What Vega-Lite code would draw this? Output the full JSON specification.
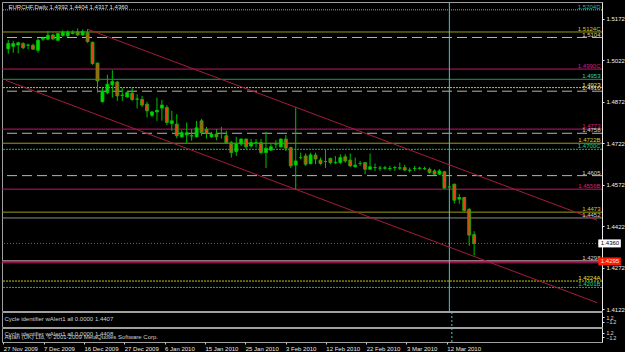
{
  "$schema": "https://vega.github.io/schema/vega-lite/v6.json",
  "background": "#000000",
  "padding": {"left": 1, "top": 1, "right": 0, "bottom": 0},
  "autosize": {"type": "pad"},
  "bounds": "flush",
  "spacing": 1,
  "config": {
    "font": "Liberation Sans",
    "view": {"stroke": "#a0a0a0", "strokeWidth": 1},
    "axis": {"labelFont": "Liberation Sans", "labelFontSize": 6, "labelColor": "#f0f0f0", "grid": false, "labelOverlap": false}
  },
  "datasets": {
    "candles": [
      {"k":0,"o":1.5063,"h":1.5095,"l":1.5045,"c":1.5083},
      {"k":1,"o":1.5072,"h":1.5092,"l":1.5049,"c":1.5082},
      {"k":2,"o":1.5077,"h":1.5089,"l":1.5047,"c":1.5085},
      {"k":3,"o":1.5082,"h":1.5087,"l":1.5062,"c":1.5067},
      {"k":4,"o":1.5076,"h":1.5082,"l":1.5062,"c":1.5077},
      {"k":5,"o":1.5076,"h":1.5082,"l":1.5059,"c":1.5062},
      {"k":6,"o":1.5058,"h":1.5101,"l":1.5049,"c":1.5094},
      {"k":7,"o":1.5098,"h":1.5107,"l":1.5092,"c":1.5101},
      {"k":8,"o":1.5098,"h":1.5128,"l":1.5094,"c":1.5112},
      {"k":9,"o":1.5113,"h":1.5118,"l":1.5094,"c":1.5099},
      {"k":10,"o":1.5094,"h":1.5121,"l":1.5092,"c":1.5118},
      {"k":11,"o":1.5111,"h":1.5130,"l":1.5107,"c":1.5123},
      {"k":12,"o":1.5110,"h":1.5130,"l":1.5106,"c":1.5123},
      {"k":13,"o":1.5118,"h":1.5130,"l":1.5116,"c":1.5121},
      {"k":14,"o":1.5124,"h":1.5137,"l":1.5110,"c":1.5113},
      {"k":15,"o":1.5113,"h":1.5132,"l":1.5111,"c":1.5125},
      {"k":16,"o":1.5121,"h":1.5134,"l":1.5085,"c":1.5089},
      {"k":17,"o":1.5087,"h":1.5089,"l":1.5005,"c":1.5010},
      {"k":18,"o":1.5012,"h":1.5012,"l":1.4905,"c":1.4947},
      {"k":19,"o":1.4872,"h":1.4925,"l":1.4869,"c":1.4908},
      {"k":20,"o":1.4905,"h":1.4969,"l":1.4899,"c":1.4935},
      {"k":21,"o":1.4933,"h":1.4986,"l":1.4887,"c":1.4945},
      {"k":22,"o":1.4943,"h":1.4947,"l":1.4875,"c":1.4893},
      {"k":23,"o":1.4895,"h":1.4921,"l":1.4875,"c":1.4896},
      {"k":24,"o":1.4889,"h":1.4911,"l":1.4887,"c":1.4905},
      {"k":25,"o":1.4903,"h":1.4921,"l":1.4875,"c":1.4880},
      {"k":26,"o":1.4882,"h":1.4899,"l":1.4848,"c":1.4881},
      {"k":27,"o":1.4880,"h":1.4893,"l":1.4853,"c":1.4860},
      {"k":28,"o":1.4863,"h":1.4872,"l":1.4815,"c":1.4839},
      {"k":29,"o":1.4823,"h":1.4839,"l":1.4817,"c":1.4835},
      {"k":30,"o":1.4835,"h":1.4887,"l":1.4803,"c":1.4841},
      {"k":31,"o":1.4849,"h":1.4878,"l":1.4803,"c":1.4860},
      {"k":32,"o":1.4851,"h":1.4860,"l":1.4788,"c":1.4797},
      {"k":33,"o":1.4793,"h":1.4839,"l":1.4767,"c":1.4803},
      {"k":34,"o":1.4791,"h":1.4827,"l":1.4740,"c":1.4749},
      {"k":35,"o":1.4745,"h":1.4769,"l":1.4742,"c":1.4760},
      {"k":36,"o":1.4752,"h":1.4797,"l":1.4722,"c":1.4760},
      {"k":37,"o":1.4748,"h":1.4773,"l":1.4731,"c":1.4749},
      {"k":38,"o":1.4745,"h":1.4803,"l":1.4742,"c":1.4778},
      {"k":39,"o":1.4803,"h":1.4810,"l":1.4749,"c":1.4760},
      {"k":40,"o":1.4772,"h":1.4781,"l":1.4739,"c":1.4757},
      {"k":41,"o":1.4745,"h":1.4763,"l":1.4741,"c":1.4755},
      {"k":42,"o":1.4755,"h":1.4773,"l":1.4733,"c":1.4745},
      {"k":43,"o":1.4757,"h":1.4781,"l":1.4739,"c":1.4757},
      {"k":44,"o":1.4749,"h":1.4767,"l":1.4719,"c":1.4724},
      {"k":45,"o":1.4724,"h":1.4730,"l":1.4670,"c":1.4688},
      {"k":46,"o":1.4692,"h":1.4745,"l":1.4676,"c":1.4721},
      {"k":47,"o":1.4719,"h":1.4740,"l":1.4712,"c":1.4737},
      {"k":48,"o":1.4737,"h":1.4739,"l":1.4701,"c":1.4709},
      {"k":49,"o":1.4712,"h":1.4737,"l":1.4706,"c":1.4724},
      {"k":50,"o":1.4724,"h":1.4737,"l":1.4706,"c":1.4725},
      {"k":51,"o":1.4724,"h":1.4737,"l":1.4682,"c":1.4688},
      {"k":52,"o":1.4688,"h":1.4763,"l":1.4632,"c":1.4704},
      {"k":53,"o":1.4697,"h":1.4719,"l":1.4694,"c":1.4709},
      {"k":54,"o":1.4719,"h":1.4733,"l":1.4704,"c":1.4719},
      {"k":55,"o":1.4709,"h":1.4740,"l":1.4706,"c":1.4737},
      {"k":56,"o":1.4737,"h":1.4752,"l":1.4694,"c":1.4704},
      {"k":57,"o":1.4706,"h":1.4709,"l":1.4632,"c":1.4640},
      {"k":58,"o":1.4643,"h":1.4851,"l":1.4556,"c":1.4658},
      {"k":59,"o":1.4670,"h":1.4688,"l":1.4664,"c":1.4670},
      {"k":60,"o":1.4676,"h":1.4685,"l":1.4640,"c":1.4646},
      {"k":61,"o":1.4648,"h":1.4688,"l":1.4646,"c":1.4680},
      {"k":62,"o":1.4679,"h":1.4688,"l":1.4646,"c":1.4665},
      {"k":63,"o":1.4661,"h":1.4670,"l":1.4644,"c":1.4649},
      {"k":64,"o":1.4656,"h":1.4700,"l":1.4632,"c":1.4656},
      {"k":65,"o":1.4667,"h":1.4670,"l":1.4646,"c":1.4652},
      {"k":66,"o":1.4652,"h":1.4676,"l":1.4646,"c":1.4653},
      {"k":67,"o":1.4652,"h":1.4682,"l":1.4646,"c":1.4670},
      {"k":68,"o":1.4673,"h":1.4682,"l":1.4652,"c":1.4658},
      {"k":69,"o":1.4661,"h":1.4685,"l":1.4637,"c":1.4640},
      {"k":70,"o":1.4637,"h":1.4670,"l":1.4634,"c":1.4643},
      {"k":71,"o":1.4649,"h":1.4658,"l":1.4640,"c":1.4649},
      {"k":72,"o":1.4652,"h":1.4652,"l":1.4610,"c":1.4628},
      {"k":73,"o":1.4628,"h":1.4685,"l":1.4625,"c":1.4637},
      {"k":74,"o":1.4634,"h":1.4649,"l":1.4622,"c":1.4634},
      {"k":75,"o":1.4632,"h":1.4640,"l":1.4622,"c":1.4632},
      {"k":76,"o":1.4632,"h":1.4640,"l":1.4626,"c":1.4633},
      {"k":77,"o":1.4631,"h":1.4640,"l":1.4622,"c":1.4630},
      {"k":78,"o":1.4634,"h":1.4640,"l":1.4622,"c":1.4634},
      {"k":79,"o":1.4632,"h":1.4652,"l":1.4625,"c":1.4633},
      {"k":80,"o":1.4634,"h":1.4644,"l":1.4622,"c":1.4625},
      {"k":81,"o":1.4625,"h":1.4634,"l":1.4616,"c":1.4624},
      {"k":82,"o":1.4630,"h":1.4640,"l":1.4622,"c":1.4631},
      {"k":83,"o":1.4632,"h":1.4637,"l":1.4626,"c":1.4631},
      {"k":84,"o":1.4631,"h":1.4637,"l":1.4625,"c":1.4630},
      {"k":85,"o":1.4628,"h":1.4634,"l":1.4612,"c":1.4616},
      {"k":86,"o":1.4622,"h":1.4628,"l":1.4608,"c":1.4610},
      {"k":87,"o":1.4610,"h":1.4628,"l":1.4608,"c":1.4622},
      {"k":88,"o":1.4619,"h":1.4622,"l":1.4557,"c":1.4560},
      {"k":89,"o":1.4564,"h":1.4571,"l":1.4557,"c":1.4564},
      {"k":90,"o":1.4574,"h":1.4576,"l":1.4504,"c":1.4516},
      {"k":91,"o":1.4520,"h":1.4539,"l":1.4503,"c":1.4526},
      {"k":92,"o":1.4526,"h":1.4528,"l":1.4475,"c":1.4478},
      {"k":93,"o":1.4483,"h":1.4488,"l":1.4351,"c":1.4390},
      {"k":94,"o":1.4392,"h":1.4404,"l":1.4317,"c":1.4360}
    ],
    "levels": [
      {"p":1.5204,"grp":"G","lab":"1.5204D"},
      {"p":1.5124,"grp":"C","lab":"1.5124C"},
      {"p":1.5104,"grp":"A","lab":"1.5104"},
      {"p":1.4990,"grp":"B","lab":"1.4990C"},
      {"p":1.4953,"grp":"D","lab":"1.4953"},
      {"p":1.4923,"grp":"E","lab":"1.4923"},
      {"p":1.4910,"grp":"A","lab":"1.4910"},
      {"p":1.4773,"grp":"B","lab":"1.4773"},
      {"p":1.4758,"grp":"A","lab":"1.4758"},
      {"p":1.4722,"grp":"C","lab":"1.4722B"},
      {"p":1.4700,"grp":"F","lab":"1.4700C"},
      {"p":1.4605,"grp":"A","lab":"1.4605"},
      {"p":1.4556,"grp":"B","lab":"1.4556B"},
      {"p":1.4473,"grp":"C","lab":"1.4473"},
      {"p":1.4452,"grp":"H","lab":"1.4452"},
      {"p":1.4360,"grp":"J"},
      {"p":1.4298,"grp":"H","lab":"1.4298"},
      {"p":1.4295,"grp":"I"},
      {"p":1.4290,"grp":"B"},
      {"p":1.4224,"grp":"E","lab":"1.4224A"},
      {"p":1.4201,"grp":"F","lab":"1.4201B"}
    ],
    "tags": [
      {"p":1.4360,"lab":"1.4360","kind":"bid"},
      {"p":1.4295,"lab":"1.4295","kind":"alert"}
    ],
    "trend": [
      {"line":"upper","k":16,"p":1.5134},
      {"line":"upper","k":118.79,"p":1.4444},
      {"line":"lower","k":-0.46,"p":1.4949},
      {"line":"lower","k":118.79,"p":1.4146}
    ],
    "vline": [{"k":89}],
    "zero": [{"v":0}],
    "captions": [
      {"panel":"main","t":"EURCHF,Daily 1.4392 1.4404 1.4317 1.4360"},
      {"panel":"sub1","t":"Cycle identifier wAlert1 all 0.0000 1.4407"},
      {"panel":"sub2","t":"Cycle identifier wAlert1 all 0.0000 1.4408"},
      {"panel":"copy","t":"Alpari (UK) Ltd, © 2001-2009 MetaQuotes Software Corp."}
    ]
  },
  "resolve": {"scale": {"y": "independent"}},
  "vconcat": [
    {
      "width": 600,
      "height": 309,
      "layer": [
        {
          "data": {"name": "levels"},
          "mark": {"type": "rule"},
          "encoding": {
            "y": {"field": "p", "type": "quantitative", "title": null,
              "scale": {"domain": [1.41158, 1.52323], "nice": false, "zero": false},
              "axis": {
                "orient": "right", "title": null,
                "values": [1.5172,1.5097,1.5022,1.4947,1.4872,1.4797,1.4722,1.4647,1.4572,1.4497,1.4422,1.4347,1.4272,1.4197,1.4122],
                "format": ".4f", "labelOverlap": false, "labelBound": false, "labelFlush": false,
                "domainColor": "#e8e8e8", "tickColor": "#e8e8e8", "tickSize": 2, "labelPadding": 2, "labelFontSize": 6
              }
            },
            "stroke": {"field": "grp", "type": "nominal", "legend": null,
              "scale": {"domain": ["A","B","C","D","E","F","G","H","I","J"], "range": ["#b4b4b4","#c0186a","#9a9a14","#10a050","#c8c800","#00c060","#a0a0a0","#8c8c8c","#ff1a00","#6a6a6a"]}},
            "strokeDash": {"field": "grp", "type": "nominal", "legend": null,
              "scale": {"domain": ["A","B","C","D","E","F","G","H","I","J"], "range": [[10,5],[1,0],[1,0],[1,0],[2,1],[2,1],[1,1],[1,0],[1,0],[1,2]]}},
            "strokeWidth": {"field": "grp", "type": "nominal", "legend": null,
              "scale": {"domain": ["A","B","C","D","E","F","G","H","I","J"], "range": [1,1,1,1,1,1,1,1.5,3,1]}}
          }
        },
        {
          "data": {"name": "vline"},
          "mark": {"type": "rule", "stroke": "#40c8c8", "strokeWidth": 1},
          "encoding": {
            "x": {"field": "k", "type": "quantitative", "title": null, "axis": null, "scale": {"domain": [-0.258, 118.79], "nice": false, "zero": false}}
          }
        },
        {
          "data": {"name": "trend"},
          "mark": {"type": "line", "stroke": "#a81c3c", "strokeWidth": 1, "clip": true},
          "encoding": {
            "x": {"field": "k", "type": "quantitative", "title": null, "axis": null},
            "y": {"field": "p", "type": "quantitative", "title": null},
            "detail": {"field": "line"}
          }
        },
        {
          "data": {"name": "candles"},
          "mark": {"type": "rule", "stroke": "#00c000", "strokeWidth": 1},
          "encoding": {
            "x": {"field": "k", "type": "quantitative", "title": null, "axis": null},
            "y": {"field": "l", "type": "quantitative", "title": null},
            "y2": {"field": "h"}
          }
        },
        {
          "data": {"name": "candles"},
          "mark": {"type": "bar", "width": 3, "stroke": "#00c000", "strokeWidth": 0.8},
          "encoding": {
            "x": {"field": "k", "type": "quantitative", "title": null, "axis": null},
            "y": {"field": "o", "type": "quantitative", "title": null},
            "y2": {"field": "c"},
            "fill": {"condition": {"test": "datum.c >= datum.o", "value": "#00d800"}, "value": "#e8401c"}
          }
        },
        {
          "data": {"name": "levels"},
          "transform": [{"filter": "datum.lab"}],
          "mark": {"type": "text", "align": "right", "baseline": "bottom", "dx": -1.5, "fontSize": 6},
          "encoding": {
            "x": {"value": "width"},
            "y": {"field": "p", "type": "quantitative", "title": null},
            "text": {"field": "lab"},
            "fill": {"field": "grp", "type": "nominal", "legend": null,
              "scale": {"domain": ["A","B","C","D","E","F","G","H","I","J"], "range": ["#d0d0d0","#d8207a","#cccc3c","#40d0a0","#e6e640","#20d080","#30b8a8","#d0d0d0","#ff4040","#d0d0d0"]}}
          }
        },
        {
          "data": {"name": "tags"},
          "mark": {"type": "rule", "strokeWidth": 8, "strokeCap": "butt"},
          "encoding": {
            "x": {"datum": 119.05, "type": "quantitative"},
            "x2": {"datum": 123.6},
            "y": {"field": "p", "type": "quantitative", "title": null},
            "stroke": {"condition": {"test": "datum.kind == 'bid'", "value": "#ffffff"}, "value": "#ff1a00"}
          }
        },
        {
          "data": {"name": "tags"},
          "mark": {"type": "text", "align": "left", "baseline": "middle", "dx": 2.5, "fontSize": 6},
          "encoding": {
            "x": {"datum": 119.05, "type": "quantitative"},
            "y": {"field": "p", "type": "quantitative", "title": null},
            "text": {"field": "lab"},
            "fill": {"condition": {"test": "datum.kind == 'bid'", "value": "#000000"}, "value": "#ffe8e8"}
          }
        },
        {
          "data": {"name": "captions"},
          "transform": [{"filter": "datum.panel == 'main'"}],
          "mark": {"type": "text", "align": "left", "baseline": "top", "dx": 1.5, "dy": 2, "fontSize": 6, "fill": "#e0e0e0"},
          "encoding": {
            "x": {"datum": -0.258, "type": "quantitative"},
            "y": {"datum": 1.52323, "type": "quantitative"},
            "text": {"field": "t"}
          }
        }
      ]
    },
    {
      "width": 600,
      "height": 15,
      "layer": [
        {
          "data": {"name": "vline"},
          "mark": {"type": "rule", "stroke": "#40c8c8", "strokeDash": [2, 2]},
          "encoding": {
            "x": {"field": "k", "type": "quantitative", "title": null, "axis": null, "scale": {"domain": [-0.258, 118.79], "nice": false, "zero": false}}
          }
        },
        {
          "data": {"name": "zero"},
          "mark": {"type": "rule", "strokeOpacity": 0},
          "encoding": {
            "y": {"field": "v", "type": "quantitative", "title": null,
              "scale": {"domain": [-4, 4], "nice": false, "zero": false},
              "axis": {"orient": "right", "title": null, "values": [1.2, 0, -1.2], "labelExpr": "datum.value == 0 ? '0.00' : format(datum.value, '.1f')", "labelFontSize": 5, "tickSize": 2, "tickColor": "#e8e8e8", "domainColor": "#e8e8e8", "labelColor": "#e0e0e0", "labelOverlap": false, "labelBound": false, "labelFlush": false, "labelPadding": 2}
            }
          }
        },
        {
          "data": {"name": "captions"},
          "transform": [{"filter": "datum.panel == 'sub1'"}],
          "mark": {"type": "text", "align": "left", "baseline": "top", "dx": 2.5, "dy": 4, "fontSize": 6, "fill": "#d0d0d0"},
          "encoding": {
            "x": {"datum": -0.258, "type": "quantitative"},
            "y": {"datum": 4, "type": "quantitative"},
            "text": {"field": "t"}
          }
        }
      ]
    },
    {
      "width": 600,
      "height": 14,
      "layer": [
        {
          "data": {"name": "vline"},
          "mark": {"type": "rule", "stroke": "#40c8c8", "strokeDash": [2, 2]},
          "encoding": {
            "x": {"field": "k", "type": "quantitative", "title": null,
              "scale": {"domain": [-0.258, 118.79], "nice": false, "zero": false},
              "axis": {"orient": "bottom", "title": null, "values": [0,8,16,24,32,40,48,56,64,72,80,88],
                "labelExpr": "['27 Nov 2009','7 Dec 2009','16 Dec 2009','27 Dec 2009','6 Jan 2010','15 Jan 2010','25 Jan 2010','3 Feb 2010','12 Feb 2010','22 Feb 2010','3 Mar 2010','12 Mar 2010'][round(datum.value/8)]",
                "labelAlign": "left", "labelBaseline": "top", "labelPadding": 1, "tickSize": 2, "tickColor": "#c8c8c8", "domain": false,
                "labelColor": "#e8e8e8", "labelFontSize": 6, "labelOverlap": false, "labelBound": false, "labelFlush": false}
            }
          }
        },
        {
          "data": {"name": "zero"},
          "mark": {"type": "rule", "strokeOpacity": 0},
          "encoding": {
            "y": {"field": "v", "type": "quantitative", "title": null,
              "scale": {"domain": [-4, 4], "nice": false, "zero": false},
              "axis": {"orient": "right", "title": null, "values": [1.2, 0, -1.2], "labelExpr": "datum.value == 0 ? '0.00' : format(datum.value, '.1f')", "labelFontSize": 5, "tickSize": 2, "tickColor": "#e8e8e8", "domainColor": "#e8e8e8", "labelColor": "#e0e0e0", "labelOverlap": false, "labelBound": false, "labelFlush": false, "labelPadding": 2}
            }
          }
        },
        {
          "data": {"name": "captions"},
          "transform": [{"filter": "datum.panel == 'sub2'"}],
          "mark": {"type": "text", "align": "left", "baseline": "top", "dx": 2.5, "dy": 2.5, "fontSize": 6, "fill": "#d0d0d0"},
          "encoding": {
            "x": {"datum": -0.258, "type": "quantitative"},
            "y": {"datum": 4, "type": "quantitative"},
            "text": {"field": "t"}
          }
        },
        {
          "data": {"name": "captions"},
          "transform": [{"filter": "datum.panel == 'copy'"}],
          "mark": {"type": "text", "align": "left", "baseline": "top", "dx": 2.5, "dy": 6, "fontSize": 6, "fill": "#d0d0d0"},
          "encoding": {
            "x": {"datum": -0.258, "type": "quantitative"},
            "y": {"datum": 4, "type": "quantitative"},
            "text": {"field": "t"}
          }
        }
      ]
    }
  ]
}
